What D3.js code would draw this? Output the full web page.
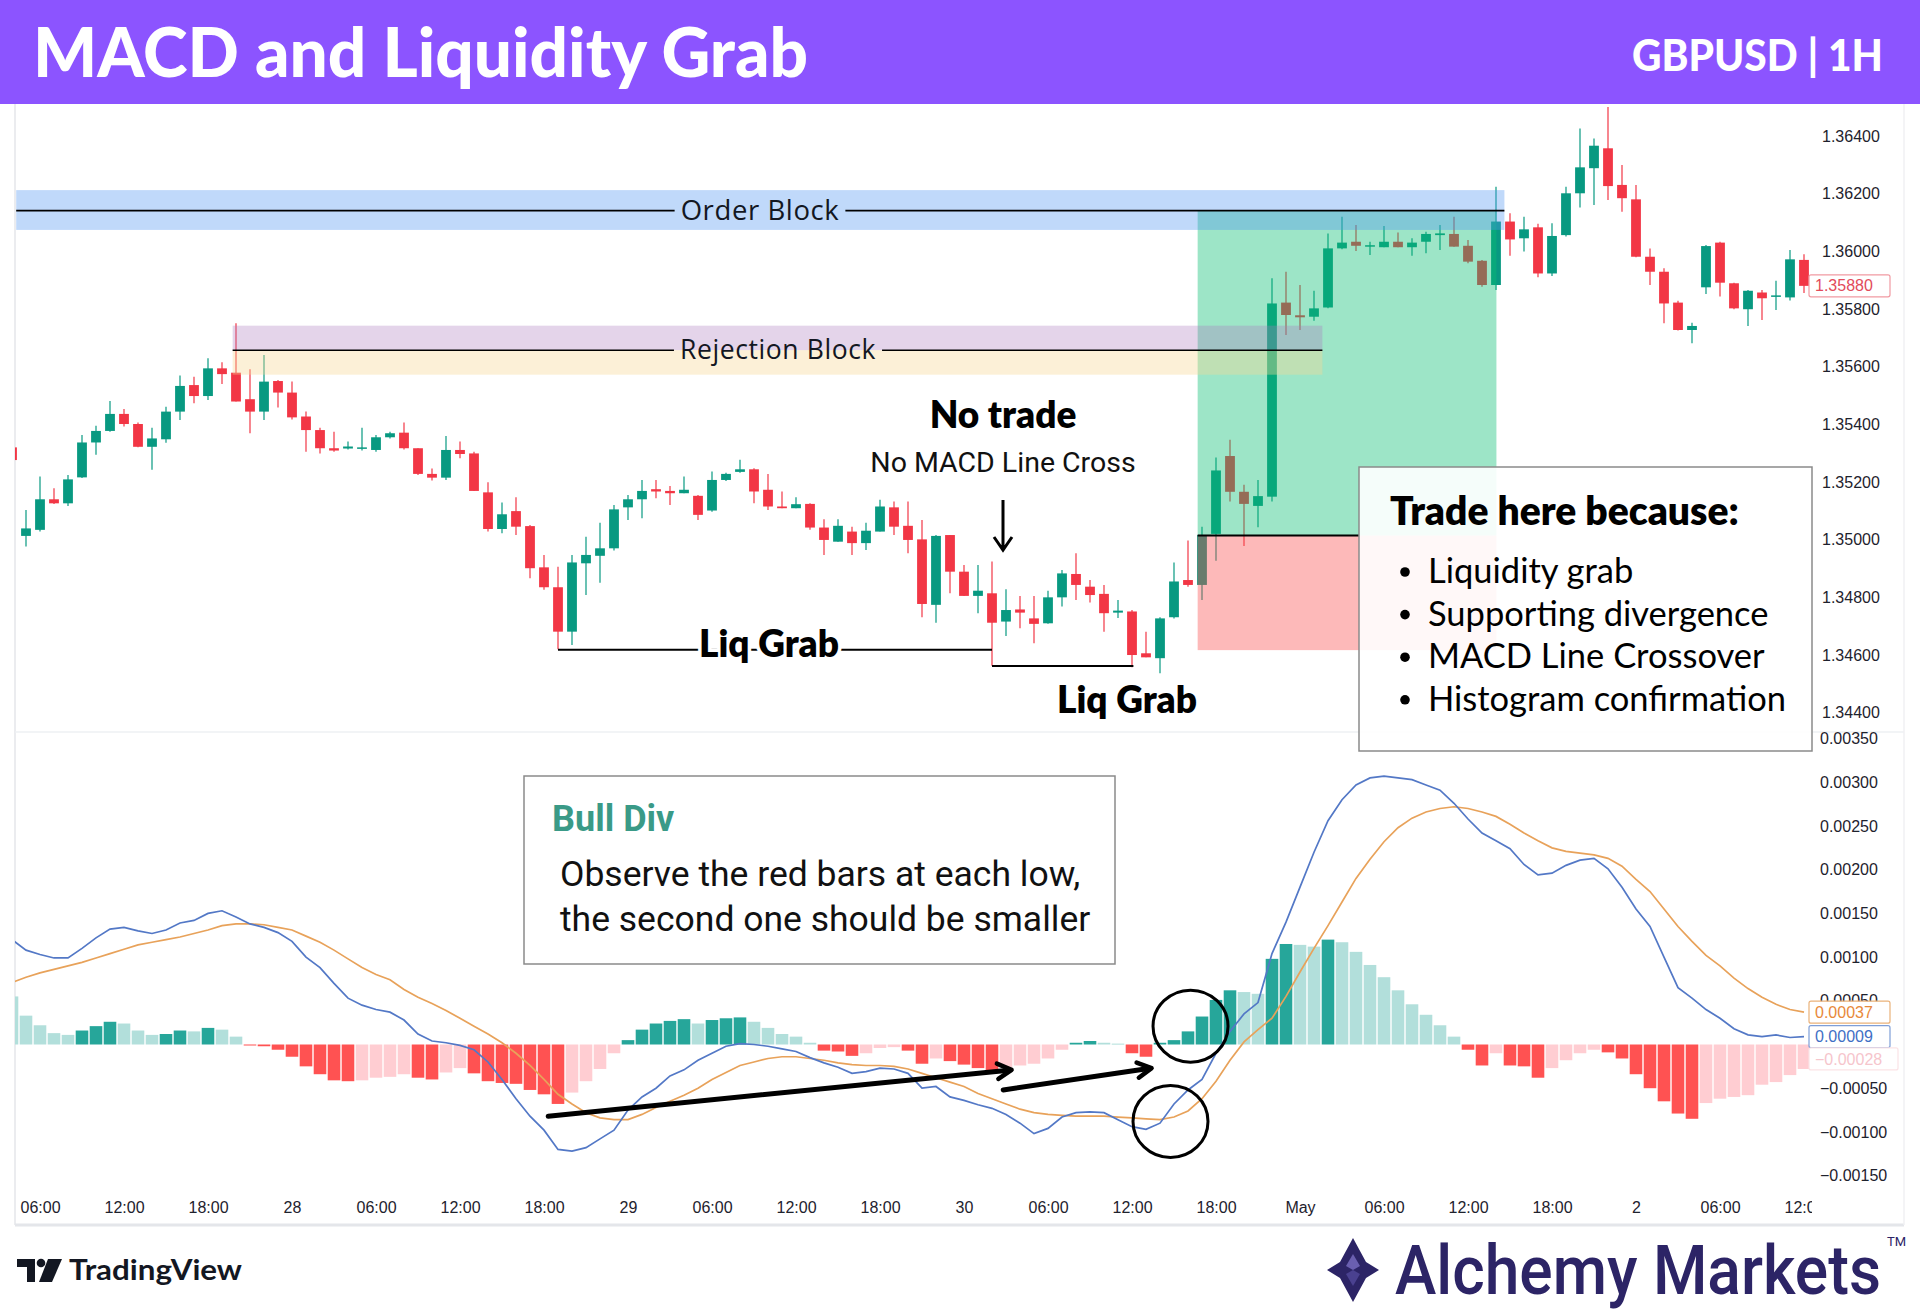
<!DOCTYPE html>
<html>
<head>
<meta charset="utf-8">
<script src="https://cdn.jsdelivr.net/npm/d3@7"></script>
<style>
  html, body { margin: 0; padding: 0; background: #fff; }
  svg { display: block; }
</style>
</head>
<body>
<script>
//Chart values, one entry per 1H candle (hour index counted from Apr 27 00:00)
const firstHour = 4;

const opens = [
  1.35320, 1.35013, 1.35034, 1.35140, 1.35126, 1.35216, 1.35337, 1.35377, 1.35436, 1.35401,
  1.35322, 1.35348, 1.35444, 1.35536, 1.35498, 1.35594, 1.35579, 1.35487, 1.35444, 1.35550,
  1.35510, 1.35427, 1.35380, 1.35317, 1.35316, 1.35316, 1.35311, 1.35355, 1.35371, 1.35317,
  1.35228, 1.35215, 1.35311, 1.35299, 1.35164, 1.35037, 1.35099, 1.35047, 1.34904, 1.34835,
  1.34681, 1.34918, 1.34944, 1.34970, 1.35112, 1.35140, 1.35175, 1.35169, 1.35161, 1.35152,
  1.35101, 1.35207, 1.35235, 1.35244, 1.35173, 1.35115, 1.35109, 1.35124, 1.35042, 1.34993,
  1.35028, 1.34988, 1.35028, 1.35112, 1.35048, 1.35001, 1.34774, 1.35016, 1.34889, 1.34805,
  1.34814, 1.34716, 1.34758, 1.34727, 1.34710, 1.34800, 1.34881, 1.34837, 1.34812, 1.34747,
  1.34751, 1.34606, 1.34589, 1.34731, 1.34860, 1.34843, 1.35020, 1.35290, 1.35166, 1.35117,
  1.35149, 1.35822, 1.35778, 1.35773, 1.35805, 1.36010, 1.36033, 1.36016, 1.36014, 1.36033,
  1.36014, 1.36033, 1.36056, 1.36060, 1.36019, 1.35967, 1.35883, 1.36103, 1.36045, 1.36083,
  1.35923, 1.36056, 1.36201, 1.36288, 1.36357, 1.36230, 1.36180, 1.35981, 1.35929, 1.35822,
  1.35727, 1.35875, 1.36030, 1.35889, 1.35799, 1.35857, 1.35845, 1.35840, 1.35970
];
const highs = [
  1.35325, 1.35103, 1.35219, 1.35178, 1.35224, 1.35363, 1.35395, 1.35481, 1.35453, 1.35406,
  1.35388, 1.35461, 1.35569, 1.35565, 1.35629, 1.35615, 1.35750, 1.35591, 1.35640, 1.35554,
  1.35548, 1.35444, 1.35388, 1.35374, 1.35340, 1.35388, 1.35363, 1.35374, 1.35406, 1.35317,
  1.35247, 1.35359, 1.35340, 1.35305, 1.35199, 1.35129, 1.35147, 1.35051, 1.34947, 1.34906,
  1.34947, 1.35010, 1.35059, 1.35120, 1.35155, 1.35207, 1.35207, 1.35186, 1.35219, 1.35155,
  1.35236, 1.35232, 1.35277, 1.35248, 1.35228, 1.35167, 1.35147, 1.35126, 1.35071, 1.35071,
  1.35045, 1.35059, 1.35138, 1.35132, 1.35132, 1.35068, 1.35016, 1.35016, 1.34912, 1.34912,
  1.34924, 1.34828, 1.34805, 1.34805, 1.34823, 1.34895, 1.34953, 1.34860, 1.34843, 1.34791,
  1.34756, 1.34681, 1.34731, 1.34921, 1.34997, 1.35045, 1.35285, 1.35346, 1.35190, 1.35207,
  1.35906, 1.35929, 1.35883, 1.35863, 1.36062, 1.36120, 1.36091, 1.36033, 1.36088, 1.36065,
  1.36045, 1.36068, 1.36091, 1.36120, 1.36039, 1.35970, 1.36224, 1.36132, 1.36120, 1.36095,
  1.36097, 1.36224, 1.36426, 1.36391, 1.36500, 1.36299, 1.36230, 1.36010, 1.35941, 1.35828,
  1.35752, 1.36022, 1.36033, 1.35891, 1.35866, 1.35866, 1.35898, 1.36004, 1.35990
];
const lows = [
  1.35270, 1.34976, 1.35028, 1.35124, 1.35117, 1.35214, 1.35294, 1.35374, 1.35392, 1.35320,
  1.35242, 1.35336, 1.35415, 1.35473, 1.35484, 1.35540, 1.35479, 1.35369, 1.35415, 1.35458,
  1.35417, 1.35305, 1.35299, 1.35305, 1.35313, 1.35309, 1.35305, 1.35351, 1.35313, 1.35224,
  1.35205, 1.35207, 1.35282, 1.35169, 1.35028, 1.35022, 1.35016, 1.34866, 1.34826, 1.34620,
  1.34635, 1.34808, 1.34851, 1.34962, 1.35068, 1.35074, 1.35144, 1.35120, 1.35161, 1.35068,
  1.35097, 1.35203, 1.35232, 1.35126, 1.35103, 1.35109, 1.35109, 1.35034, 1.34947, 1.34993,
  1.34947, 1.34964, 1.35028, 1.35016, 1.34953, 1.34731, 1.34712, 1.34814, 1.34805, 1.34745,
  1.34563, 1.34666, 1.34693, 1.34641, 1.34708, 1.34768, 1.34791, 1.34782, 1.34681, 1.34728,
  1.34558, 1.34592, 1.34537, 1.34727, 1.34837, 1.34791, 1.34927, 1.35132, 1.34978, 1.35043,
  1.35132, 1.35710, 1.35727, 1.35759, 1.35802, 1.36007, 1.36001, 1.35987, 1.36014, 1.36014,
  1.35984, 1.35993, 1.36004, 1.36016, 1.35958, 1.35877, 1.35866, 1.35984, 1.35999, 1.35910,
  1.35914, 1.36051, 1.36152, 1.36160, 1.36178, 1.36137, 1.35979, 1.35883, 1.35750, 1.35725,
  1.35681, 1.35852, 1.35843, 1.35799, 1.35741, 1.35762, 1.35796, 1.35829, 1.35855
];
const closes = [
  1.35276, 1.35039, 1.35140, 1.35126, 1.35209, 1.35337, 1.35377, 1.35436, 1.35401, 1.35322,
  1.35351, 1.35444, 1.35533, 1.35498, 1.35594, 1.35574, 1.35479, 1.35444, 1.35548, 1.35510,
  1.35424, 1.35380, 1.35317, 1.35309, 1.35323, 1.35320, 1.35355, 1.35369, 1.35317, 1.35228,
  1.35215, 1.35311, 1.35297, 1.35169, 1.35037, 1.35088, 1.35045, 1.34901, 1.34835, 1.34681,
  1.34921, 1.34947, 1.34970, 1.35105, 1.35140, 1.35169, 1.35167, 1.35161, 1.35173, 1.35086,
  1.35207, 1.35228, 1.35244, 1.35167, 1.35115, 1.35109, 1.35123, 1.35042, 1.34999, 1.35048,
  1.34988, 1.35031, 1.35115, 1.35045, 1.34999, 1.34777, 1.35013, 1.34889, 1.34805, 1.34823,
  1.34712, 1.34756, 1.34747, 1.34708, 1.34800, 1.34883, 1.34843, 1.34808, 1.34745, 1.34754,
  1.34600, 1.34592, 1.34727, 1.34855, 1.34843, 1.35016, 1.35240, 1.35166, 1.35124, 1.35151,
  1.35819, 1.35779, 1.35771, 1.35802, 1.36010, 1.36030, 1.36019, 1.36021, 1.36033, 1.36014,
  1.36030, 1.36060, 1.36062, 1.36016, 1.35964, 1.35883, 1.36103, 1.36041, 1.36076, 1.35923,
  1.36053, 1.36201, 1.36291, 1.36366, 1.36226, 1.36184, 1.35981, 1.35929, 1.35819, 1.35727,
  1.35741, 1.36018, 1.35891, 1.35802, 1.35863, 1.35837, 1.35847, 1.35972, 1.35880
];

//MACD pane values
const macdLine = [
  0.00120, 0.00108, 0.00103, 0.00099, 0.00099, 0.00110, 0.00122, 0.00132, 0.00134, 0.00130,
  0.00127, 0.00131, 0.00139, 0.00142, 0.00150, 0.00153, 0.00146, 0.00138, 0.00134, 0.00128,
  0.00118, 0.00100, 0.00088, 0.00070, 0.00053, 0.00045, 0.00040, 0.00037, 0.00028, 0.00012,
  0.00004, 0.00002, -0.00001, -0.00006, -0.00020, -0.00040, -0.00062, -0.00082, -0.00098, -0.00120,
  -0.00122, -0.00118, -0.00108, -0.00098, -0.00075, -0.00060, -0.00050, -0.00036, -0.00029, -0.00018,
  -0.00010, -0.00002, 0.00001, 0.00000, -0.00002, -0.00005, -0.00008, -0.00015, -0.00021, -0.00026,
  -0.00033, -0.00031, -0.00027, -0.00028, -0.00033, -0.00050, -0.00048, -0.00060, -0.00064, -0.00069,
  -0.00073, -0.00080, -0.00090, -0.00102, -0.00096, -0.00083, -0.00078, -0.00077, -0.00078, -0.00086,
  -0.00094, -0.00097, -0.00090, -0.00068, -0.00052, -0.00040, -0.00010, 0.00015, 0.00035, 0.00048,
  0.00104, 0.00140, 0.00180, 0.00220, 0.00256, 0.00280, 0.00297, 0.00305, 0.00307, 0.00305,
  0.00303, 0.00297, 0.00291, 0.00276, 0.00258, 0.00242, 0.00233, 0.00224, 0.00206, 0.00194,
  0.00196, 0.00205, 0.00211, 0.00213, 0.00201, 0.00180, 0.00155, 0.00135, 0.00100, 0.00065,
  0.00053, 0.00040, 0.00030, 0.00018, 0.00011, 0.00009, 0.00011, 0.00008, 0.00009
];
const signalLine = [
  0.00071, 0.00077, 0.00082, 0.00086, 0.00090, 0.00094, 0.00099, 0.00104, 0.00109, 0.00114,
  0.00117, 0.00120, 0.00123, 0.00127, 0.00131, 0.00136, 0.00138, 0.00138, 0.00137, 0.00134,
  0.00131, 0.00124, 0.00117, 0.00108, 0.00098, 0.00088, 0.00080, 0.00074, 0.00063, 0.00054,
  0.00047, 0.00039, 0.00030, 0.00021, 0.00012, 0.00002, -0.00010, -0.00024, -0.00040, -0.00057,
  -0.00068, -0.00078, -0.00084, -0.00086, -0.00086, -0.00080, -0.00072, -0.00065, -0.00058, -0.00050,
  -0.00040, -0.00032, -0.00024, -0.00020, -0.00016, -0.00014, -0.00014, -0.00016, -0.00018, -0.00021,
  -0.00023, -0.00024, -0.00024, -0.00025, -0.00028, -0.00033, -0.00038, -0.00043, -0.00048, -0.00056,
  -0.00062, -0.00068, -0.00074, -0.00078, -0.00080, -0.00081, -0.00082, -0.00082, -0.00082, -0.00083,
  -0.00084, -0.00085, -0.00086, -0.00083, -0.00076, -0.00062, -0.00042, -0.00018, 0.00003, 0.00017,
  0.00030, 0.00055, 0.00083, 0.00110, 0.00136, 0.00163, 0.00190, 0.00212, 0.00232, 0.00248,
  0.00259, 0.00266, 0.00270, 0.00272, 0.00270, 0.00266, 0.00261, 0.00252, 0.00242, 0.00233,
  0.00225, 0.00221, 0.00219, 0.00217, 0.00213, 0.00204, 0.00189, 0.00175, 0.00155, 0.00135,
  0.00118, 0.00102, 0.00090, 0.00076, 0.00064, 0.00054, 0.00046, 0.00040, 0.00037
];
const histogram = [
  0.00055, 0.00033, 0.00022, 0.00013, 0.00011, 0.00016, 0.00021, 0.00026, 0.00024, 0.00016,
  0.00011, 0.00012, 0.00016, 0.00015, 0.00019, 0.00017, 0.00009, -0.00001, -0.00002, -0.00006,
  -0.00014, -0.00025, -0.00034, -0.00041, -0.00042, -0.00041, -0.00038, -0.00037, -0.00034, -0.00038,
  -0.00040, -0.00032, -0.00027, -0.00033, -0.00042, -0.00044, -0.00045, -0.00052, -0.00057, -0.00068,
  -0.00055, -0.00042, -0.00028, -0.00010, 0.00005, 0.00017, 0.00024, 0.00027, 0.00029, 0.00024,
  0.00028, 0.00030, 0.00031, 0.00026, 0.00019, 0.00012, 0.00009, 0.00002, -0.00007, -0.00008,
  -0.00013, -0.00010, -0.00004, -0.00003, -0.00007, -0.00022, -0.00016, -0.00019, -0.00023, -0.00027,
  -0.00031, -0.00026, -0.00024, -0.00022, -0.00016, -0.00006, 0.00002, 0.00004, 0.00002, 0.00001,
  -0.00010, -0.00014, 0.00002, 0.00005, 0.00015, 0.00032, 0.00051, 0.00062, 0.00060, 0.00058,
  0.00098, 0.00115, 0.00114, 0.00112, 0.00120, 0.00117, 0.00106, 0.00091, 0.00077, 0.00062,
  0.00046, 0.00034, 0.00022, 0.00009, -0.00006, -0.00024, -0.00010, -0.00024, -0.00025, -0.00038,
  -0.00027, -0.00018, -0.00010, -0.00006, -0.00009, -0.00016, -0.00034, -0.00050, -0.00065, -0.00079,
  -0.00085, -0.00067, -0.00062, -0.00060, -0.00058, -0.00046, -0.00043, -0.00035, -0.00028
];

//Axis ticks and labels
const priceTicks = [1.344, 1.346, 1.348, 1.350, 1.352, 1.354, 1.356, 1.358, 1.360, 1.362, 1.364];
const macdTicks = [-0.0015, -0.0010, -0.0005, 0.0005, 0.0010, 0.0015, 0.0020, 0.0025, 0.0030, 0.0035];
const timeTickHours = [6, 12, 18, 24, 30, 36, 42, 48, 54, 60, 66, 72, 78, 84, 90, 96, 102, 108, 114, 120, 126, 132];
const timeTickLabels = ["06:00", "12:00", "18:00", "28", "06:00", "12:00", "18:00", "29", "06:00", "12:00", "18:00",
  "30", "06:00", "12:00", "18:00", "May", "06:00", "12:00", "18:00", "2", "06:00", "12:00"];
const lastPrice = 1.35880;
const lastSignal = 0.00037;
const lastMacd = 0.00009;
const lastHist = -0.00028;

//Drawings on the price pane (prices, hour positions)
const orderBlock = [1.36212, 1.36141, 1.36074];      // top, line, bottom
const orderBlockHours = [4.3, 110.6];
const rejectionBlock = [1.35742, 1.35657, 1.35572];  // top, line, bottom
const rejectionHours = [19.76, 97.6];
const tradeLevels = [1.36141, 1.35014, 1.34617];     // target, entry, stop
const tradeHours = [88.69, 110.03];
const liqGrabLevels = [1.34618, 1.34562];
const liqGrabHours = [[43, 74], [74, 84.1]];
const reasons = ["Liquidity grab", "Supporting divergence", "MACD Line Crossover", "Histogram confirmation"];

//Drawings on the MACD pane
const divArrows = [[42.3, -0.00082, 75.4, -0.00029], [74.8, -0.00052, 85.4, -0.00027]];
const divCircles = [[88.18, 0.00021], [86.75, -0.00088]];

//Declare layout
const width = 1920;
const height = 1314;
const plotLeft = 15;
const plotRight = 1812;
const headerH = 104;
const paneSplit = 732;
const chartBottom = 1225;

const svg = d3.select("body").append("svg")
  .attr("width", width)
  .attr("height", height)
  .style("font-family", "'Liberation Sans', Arial, sans-serif");

//Scales
const x = d3.scaleLinear().domain([4, 132]).range([12, 1804]);
const yPrice = d3.scaleLinear().domain([1.344, 1.364]).range([712.7, 135.9]);
const yMacd = d3.scaleLinear().domain([-0.0015, 0.0035]).range([1175.6, 738.6]);

const bars = opens.map((o, i) => ({
  h: firstHour + i, o: o, hi: highs[i], lo: lows[i], c: closes[i],
  macd: macdLine[i], sig: signalLine[i], hist: histogram[i]
}));

const defs = svg.append("defs");
defs.append("clipPath").attr("id", "clipPrice")
  .append("rect").attr("x", plotLeft).attr("y", headerH).attr("width", plotRight - plotLeft).attr("height", paneSplit - headerH);
defs.append("clipPath").attr("id", "clipMacd")
  .append("rect").attr("x", plotLeft).attr("y", paneSplit).attr("width", plotRight - plotLeft).attr("height", chartBottom - 35 - paneSplit);
defs.append("clipPath").attr("id", "clipTime")
  .append("rect").attr("x", plotLeft).attr("y", paneSplit).attr("width", plotRight - plotLeft).attr("height", chartBottom - paneSplit);

//Frame
svg.append("rect").attr("width", width).attr("height", height).attr("fill", "#fff");
const frame = svg.append("g").attr("stroke", "#e4e6ea").attr("stroke-width", 1.5).attr("fill", "none");
frame.append("line").attr("x1", plotLeft).attr("x2", plotLeft).attr("y1", headerH).attr("y2", chartBottom);
frame.append("line").attr("x1", plotLeft).attr("x2", 1904).attr("y1", paneSplit).attr("y2", paneSplit).attr("stroke", "#eef0f3");
frame.append("line").attr("x1", plotLeft).attr("x2", 1904).attr("y1", chartBottom).attr("y2", chartBottom).attr("stroke-width", 3);
frame.append("line").attr("x1", 1904).attr("x2", 1904).attr("y1", headerH).attr("y2", chartBottom).attr("stroke", "#f0f1f3");

//Candles
const candleW = 9.8;
const pricePane = svg.append("g").attr("clip-path", "url(#clipPrice)");
const candles = pricePane.append("g").selectAll("g").data(bars).join("g");
candles.append("line")
  .attr("x1", d => x(d.h)).attr("x2", d => x(d.h))
  .attr("y1", d => yPrice(d.hi)).attr("y2", d => yPrice(d.lo))
  .attr("stroke", d => d.c >= d.o ? "#089981" : "#f23645")
  .attr("stroke-width", 1.2);
candles.append("rect")
  .attr("x", d => x(d.h) - candleW / 2)
  .attr("y", d => yPrice(Math.max(d.o, d.c)))
  .attr("width", candleW)
  .attr("height", d => Math.max(1.5, Math.abs(yPrice(d.o) - yPrice(d.c))))
  .attr("fill", d => d.c >= d.o ? "#089981" : "#f23645");

//Long position tool (drawn over the candles)
pricePane.append("rect")
  .attr("x", x(tradeHours[0])).attr("width", x(tradeHours[1]) - x(tradeHours[0]))
  .attr("y", yPrice(tradeLevels[0])).attr("height", yPrice(tradeLevels[1]) - yPrice(tradeLevels[0]))
  .attr("fill", "rgb(10,190,115)").attr("fill-opacity", 0.4);
pricePane.append("rect")
  .attr("x", x(tradeHours[0])).attr("width", x(tradeHours[1]) - x(tradeHours[0]))
  .attr("y", yPrice(tradeLevels[1])).attr("height", yPrice(tradeLevels[2]) - yPrice(tradeLevels[1]))
  .attr("fill", "rgb(250,80,80)").attr("fill-opacity", 0.4);

//Order block
pricePane.append("rect")
  .attr("x", x(orderBlockHours[0])).attr("width", x(orderBlockHours[1]) - x(orderBlockHours[0]))
  .attr("y", yPrice(orderBlock[0])).attr("height", yPrice(orderBlock[2]) - yPrice(orderBlock[0]))
  .attr("fill", "rgb(80,150,240)").attr("fill-opacity", 0.36);

//Rejection block (lavender over cream)
pricePane.append("rect")
  .attr("x", x(rejectionHours[0])).attr("width", x(rejectionHours[1]) - x(rejectionHours[0]))
  .attr("y", yPrice(rejectionBlock[0])).attr("height", yPrice(rejectionBlock[1]) - yPrice(rejectionBlock[0]))
  .attr("fill", "rgb(170,120,190)").attr("fill-opacity", 0.32);
pricePane.append("rect")
  .attr("x", x(rejectionHours[0])).attr("width", x(rejectionHours[1]) - x(rejectionHours[0]))
  .attr("y", yPrice(rejectionBlock[1])).attr("height", yPrice(rejectionBlock[2]) - yPrice(rejectionBlock[1]))
  .attr("fill", "rgb(248,215,150)").attr("fill-opacity", 0.38);

//Labelled lines with a gap for the text
function labelledLine(h0, h1, price, label, cx, size) {
  const yy = yPrice(price);
  const t = svg.append("text")
    .attr("x", cx).attr("y", yy).attr("dy", "0.35em")
    .attr("text-anchor", "middle")
    .style("font-family", "'Open Sans', sans-serif")
    .style("font-size", size + "px")
    .style("letter-spacing", "0.6px")
    .attr("fill", "#131722")
    .text(label);
  const w = t.node().getComputedTextLength();
  const g = pricePane.append("g").attr("stroke", "#000").attr("stroke-width", 1.6);
  g.append("line").attr("x1", x(h0)).attr("x2", cx - w / 2 - 6).attr("y1", yy).attr("y2", yy);
  g.append("line").attr("x1", cx + w / 2 + 6).attr("x2", x(h1)).attr("y1", yy).attr("y2", yy);
}
labelledLine(orderBlockHours[0], orderBlockHours[1], orderBlock[1], "Order Block", 760, 27.5);
labelledLine(rejectionHours[0], rejectionHours[1], rejectionBlock[1], "Rejection Block", 778, 26.5);

//Entry and liquidity grab lines
const tradeBoxX = 1359;
pricePane.append("line")
  .attr("x1", x(tradeHours[0])).attr("x2", tradeBoxX)
  .attr("y1", yPrice(tradeLevels[1])).attr("y2", yPrice(tradeLevels[1]))
  .attr("stroke", "#000").attr("stroke-width", 2);
liqGrabLevels.forEach((lv, i) => {
  pricePane.append("line")
    .attr("x1", x(liqGrabHours[i][0])).attr("x2", x(liqGrabHours[i][1]))
    .attr("y1", yPrice(lv)).attr("y2", yPrice(lv))
    .attr("stroke", "#000").attr("stroke-width", 2);
});

const boldFont = "Lato, 'DejaVu Sans', sans-serif";
function haloText(txt, cx, by, size) {
  svg.append("text")
    .attr("x", cx).attr("y", by).attr("text-anchor", "middle")
    .style("font-family", boldFont).style("font-weight", 800).style("font-size", size + "px")
    .attr("fill", "#000").attr("stroke", "#fff").attr("stroke-width", 7)
    .attr("paint-order", "stroke").attr("stroke-linejoin", "round")
    .text(txt);
}
haloText("Liq Grab", 769, 657, 37);
haloText("Liq Grab", 1127, 713, 37);

//No trade note
svg.append("text").attr("x", 1003).attr("y", 428).attr("text-anchor", "middle")
  .style("font-family", boldFont).style("font-weight", 800).style("font-size", "37px")
  .attr("fill", "#000").text("No trade");
svg.append("text").attr("x", 1003).attr("y", 472).attr("text-anchor", "middle")
  .style("font-family", "Roboto, sans-serif").style("font-size", "28.5px")
  .attr("fill", "#111").text("No MACD Line Cross");
svg.append("path")
  .attr("d", "M1003,500 V549 M994,537 L1003,550 L1012,537")
  .attr("fill", "none").attr("stroke", "#000").attr("stroke-width", 3);

//Trade reasons box
const tbox = svg.append("g");
tbox.append("rect").attr("x", tradeBoxX).attr("y", 467).attr("width", 453).attr("height", 284)
  .attr("fill", "#fff").attr("fill-opacity", 0.9).attr("stroke", "#8a8a8a").attr("stroke-width", 1.5);
tbox.append("text").attr("x", 1390).attr("y", 525)
  .style("font-family", boldFont).style("font-weight", 800).style("font-size", "39px")
  .attr("fill", "#000").text("Trade here because:");
reasons.forEach((r, i) => {
  const by = 583 + i * 42.6;
  tbox.append("circle").attr("cx", 1405).attr("cy", by - 11).attr("r", 4.8).attr("fill", "#000");
  tbox.append("text").attr("x", 1428).attr("y", by)
    .style("font-family", "Lato, sans-serif").style("font-size", "34.5px")
    .attr("fill", "#000").text(r);
});

//MACD histogram
const macdPane = svg.append("g").attr("clip-path", "url(#clipMacd)");
macdPane.append("g").selectAll("rect").data(bars).join("rect")
  .attr("x", d => x(d.h) - 6.3)
  .attr("width", 12.6)
  .attr("y", d => Math.min(yMacd(0), yMacd(d.hist)))
  .attr("height", d => Math.max(1, Math.abs(yMacd(d.hist) - yMacd(0))))
  .attr("fill", (d, i) => {
    const prev = i > 0 ? bars[i - 1].hist : Infinity;
    if (d.hist >= 0) return d.hist > prev ? "#26a69a" : "#b2dfdb";
    return d.hist < prev ? "#ff5252" : "#ffcdd2";
  });

//MACD and signal lines
const macdPath = d3.line().x(d => x(d.h)).y(d => yMacd(d.macd));
const signalPath = d3.line().x(d => x(d.h)).y(d => yMacd(d.sig));
macdPane.append("path").datum(bars).attr("d", signalPath)
  .attr("fill", "none").attr("stroke", "#e8a25a").attr("stroke-width", 1.7);
macdPane.append("path").datum(bars).attr("d", macdPath)
  .attr("fill", "none").attr("stroke", "#5378c6").attr("stroke-width", 1.7);

//Divergence arrows and circles
divArrows.forEach(a => {
  const x1 = x(a[0]), y1 = yMacd(a[1]), x2 = x(a[2]), y2 = yMacd(a[3]);
  const ang = Math.atan2(y2 - y1, x2 - x1);
  const len = 16;
  svg.append("line").attr("x1", x1).attr("y1", y1).attr("x2", x2 - Math.cos(ang) * 3).attr("y2", y2 - Math.sin(ang) * 3)
    .attr("stroke", "#000").attr("stroke-width", 5).attr("stroke-linecap", "round");
  svg.append("path")
    .attr("d", `M${x2 - len * Math.cos(ang - 0.5)},${y2 - len * Math.sin(ang - 0.5)} L${x2},${y2} L${x2 - len * Math.cos(ang + 0.5)},${y2 - len * Math.sin(ang + 0.5)}`)
    .attr("fill", "none").attr("stroke", "#000").attr("stroke-width", 4.5).attr("stroke-linecap", "round").attr("stroke-linejoin", "round");
});
divCircles.forEach(c => {
  svg.append("ellipse").attr("cx", x(c[0])).attr("cy", yMacd(c[1])).attr("rx", 37.5).attr("ry", 36)
    .attr("fill", "none").attr("stroke", "#000").attr("stroke-width", 3);
});

//Bull Div box
const bbox = svg.append("g");
bbox.append("rect").attr("x", 524).attr("y", 776).attr("width", 591).attr("height", 188)
  .attr("fill", "#fff").attr("stroke", "#8a8a8a").attr("stroke-width", 1.5);
bbox.append("text").attr("x", 552).attr("y", 831)
  .style("font-family", "Roboto, sans-serif").style("font-weight", 700).style("font-size", "36px")
  .attr("fill", "#3a9a87").text("Bull Div");
bbox.append("text").attr("x", 560).attr("y", 886)
  .style("font-family", "Roboto, sans-serif").style("font-size", "35.5px")
  .attr("fill", "#111").text("Observe the red bars at each low,");
bbox.append("text").attr("x", 560).attr("y", 931)
  .style("font-family", "Roboto, sans-serif").style("font-size", "35.5px")
  .attr("fill", "#111").text("the second one should be smaller");

//Price axis
const priceAxis = d3.axisRight(yPrice).tickValues(priceTicks).tickFormat(d3.format(".5f")).tickSize(0).tickPadding(10);
svg.append("g").attr("transform", `translate(${plotRight},0)`).call(priceAxis)
  .call(g => g.select(".domain").remove())
  .selectAll("text").style("font-size", "16px").style("font-family", "'Liberation Sans', Arial, sans-serif").attr("fill", "#1e222d");

//MACD axis
const macdAxis = d3.axisRight(yMacd).tickValues(macdTicks).tickFormat(d => d < 0 ? "\u2212" + d3.format(".5f")(-d) : d3.format(".5f")(d)).tickSize(0).tickPadding(8);
svg.append("g").attr("transform", `translate(${plotRight},0)`).call(macdAxis)
  .call(g => g.select(".domain").remove())
  .selectAll("text").style("font-size", "16px").style("font-family", "'Liberation Sans', Arial, sans-serif").attr("fill", "#1e222d");

//Time axis
const timeAxis = d3.axisBottom(x).tickValues(timeTickHours).tickFormat((d, i) => timeTickLabels[i]).tickSize(0).tickPadding(0);
svg.append("g").attr("clip-path", "url(#clipTime)").append("g")
  .attr("transform", "translate(0,1202)").call(timeAxis)
  .call(g => g.select(".domain").remove())
  .selectAll("text").style("font-size", "16px").style("font-family", "'Liberation Sans', Arial, sans-serif").attr("fill", "#1e222d");

//Last value labels
function valueTag(yy, txt, stroke, fill, w) {
  const g = svg.append("g");
  g.append("rect").attr("x", 1809).attr("y", yy - 11).attr("width", w).attr("height", 22).attr("rx", 2)
    .attr("fill", "#fff").attr("stroke", stroke).attr("stroke-width", 1.2);
  g.append("text").attr("x", 1815).attr("y", yy).attr("dy", "0.35em")
    .style("font-size", "16px").attr("fill", fill).text(txt);
}
valueTag(yPrice(lastPrice), d3.format(".5f")(lastPrice), "#f19aa2", "#e24b5b", 81);
valueTag(yMacd(lastSignal), d3.format(".5f")(lastSignal), "#eab27a", "#e8893a", 81);
valueTag(yMacd(lastMacd), d3.format(".5f")(lastMacd), "#7f9fd8", "#3f6fc5", 81);
valueTag(yMacd(lastHist) - 10, "\u2212" + d3.format(".5f")(-lastHist), "#fbe3e6", "#f6c5cc", 89);

//Header
svg.append("rect").attr("x", 0).attr("y", 0).attr("width", width).attr("height", headerH).attr("fill", "#8c54ff");
svg.append("text").attr("x", 33).attr("y", 77)
  .attr("textLength", 775).attr("lengthAdjust", "spacingAndGlyphs")
  .style("font-family", boldFont).style("font-weight", 900).style("font-size", "68px")
  .attr("fill", "#fff").text("MACD and Liquidity Grab");
svg.append("text").attr("x", 1632).attr("y", 71)
  .attr("textLength", 251).attr("lengthAdjust", "spacingAndGlyphs")
  .style("font-family", boldFont).style("font-weight", 900).style("font-size", "44px")
  .attr("fill", "#fff").text("GBPUSD | 1H");

//Footer logos
const tv = svg.append("g").attr("fill", "#131722");
tv.append("path").attr("d", "M17,1259 H35 V1282 H27 V1267 H17 Z");
tv.append("circle").attr("cx", 41).attr("cy", 1263).attr("r", 4.3);
tv.append("path").attr("d", "M48,1259 H62 L52,1282 H39 Z");
tv.append("text").attr("x", 69).attr("y", 1280)
  .attr("textLength", 173).attr("lengthAdjust", "spacingAndGlyphs")
  .style("font-family", boldFont).style("font-weight", 700).style("font-size", "29px")
  .text("TradingView");

const am = svg.append("g");
am.append("path").attr("d", "M1353,1238 L1366,1262 L1379,1270 L1366,1278 L1353,1302 L1340,1278 L1327,1270 L1340,1262 Z")
  .attr("fill", "#2c2466");
am.append("path").attr("d", "M1353,1254 L1360,1266 L1353,1270 L1346,1266 Z").attr("fill", "#6a5fb0");
am.append("path").attr("d", "M1353,1286 L1360,1274 L1353,1270 L1346,1274 Z").attr("fill", "#4a4190");
am.append("text").attr("x", 1395).attr("y", 1294)
  .attr("textLength", 486).attr("lengthAdjust", "spacingAndGlyphs")
  .style("font-family", "Roboto, sans-serif").style("font-weight", 500).style("font-size", "68px")
  .attr("fill", "#2c2466").text("Alchemy Markets");
am.append("text").attr("x", 1887).attr("y", 1246)
  .style("font-family", "Roboto, sans-serif").style("font-size", "13px")
  .attr("fill", "#2c2466").text("TM");
</script>
</body>
</html>
